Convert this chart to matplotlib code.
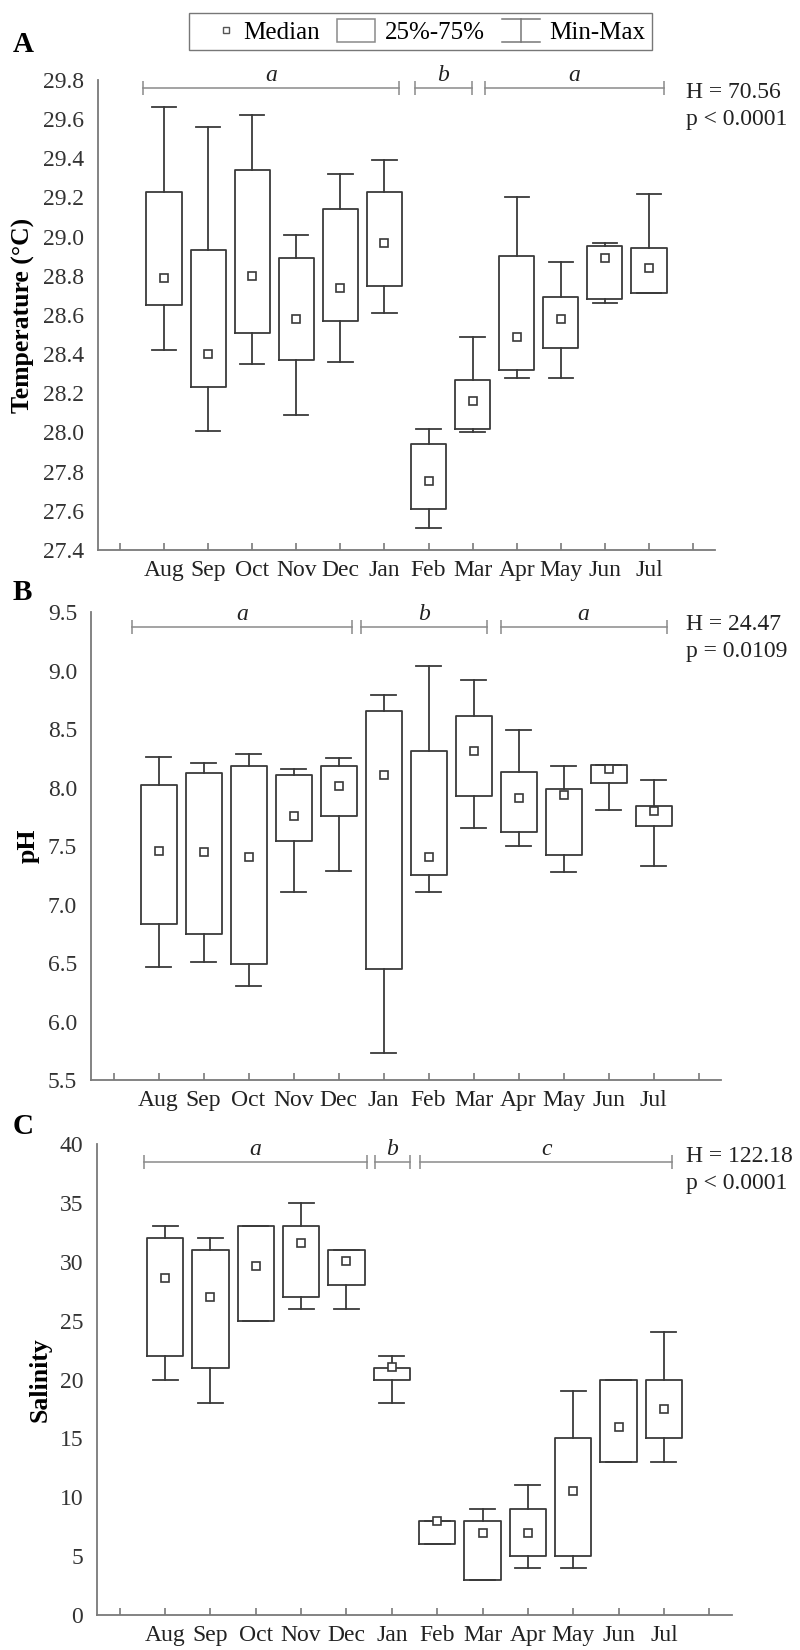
import matplotlib
matplotlib.use('Agg')
import matplotlib.pyplot as plt
from matplotlib.lines import Line2D
from matplotlib.patches import Rectangle
from matplotlib.legend_handler import HandlerBase

plt.rcParams['font.family'] = ['Liberation Serif', 'DejaVu Serif']

months = ['Aug', 'Sep', 'Oct', 'Nov', 'Dec', 'Jan', 'Feb', 'Mar', 'Apr', 'May', 'Jun', 'Jul']

# A - temperature (C)
temp_min = [28.42, 28.01, 28.35, 28.09, 28.36, 28.61, 27.51, 28.00, 28.28, 28.28, 28.66, 28.71]
temp_q1 = [28.65, 28.23, 28.51, 28.37, 28.57, 28.75, 27.61, 28.02, 28.32, 28.43, 28.68, 28.71]
temp_med = [28.79, 28.40, 28.80, 28.58, 28.74, 28.97, 27.75, 28.16, 28.49, 28.58, 28.89, 28.84]
temp_q3 = [29.23, 28.93, 29.34, 28.89, 29.14, 29.23, 27.94, 28.27, 28.90, 28.69, 28.95, 28.94]
temp_max = [29.66, 29.56, 29.62, 29.01, 29.32, 29.39, 28.02, 28.49, 29.20, 28.87, 28.97, 29.22]

# B - pH
ph_min = [6.47, 6.51, 6.30, 7.11, 7.29, 5.73, 7.11, 7.65, 7.50, 7.28, 7.81, 7.33]
ph_q1 = [6.83, 6.75, 6.49, 7.54, 7.76, 6.45, 7.25, 7.93, 7.62, 7.42, 8.04, 7.67]
ph_med = [7.46, 7.45, 7.41, 7.76, 8.01, 8.11, 7.41, 8.31, 7.91, 7.94, 8.16, 7.80]
ph_q3 = [8.02, 8.12, 8.18, 8.11, 8.18, 8.65, 8.31, 8.61, 8.13, 7.99, 8.19, 7.84]
ph_max = [8.26, 8.21, 8.29, 8.16, 8.25, 8.79, 9.04, 8.92, 8.49, 8.18, 8.19, 8.06]

# C - salinity
sal_min = [20, 18, 25, 26, 26, 18, 6, 3, 4, 4, 13, 13]
sal_q1 = [22, 21, 25, 27, 28, 20, 6, 3, 5, 5, 13, 15]
sal_med = [28.6, 27.0, 29.6, 31.6, 30.1, 21.1, 8.0, 7.0, 7.0, 10.5, 16.0, 17.5]
sal_q3 = [32, 31, 33, 33, 31, 21, 8, 8, 9, 15, 20, 20]
sal_max = [33, 32, 33, 35, 31, 22, 8, 9, 11, 19, 20, 24]

# homogeneous groups (start, end, letter) in month-position units
temp_groups = [(0.52, 6.33, 'a'), (6.70, 7.98, 'b'), (8.27, 12.35, 'a')]
ph_groups = [(0.42, 5.29, 'a'), (5.49, 8.31, 'b'), (8.60, 12.29, 'a')]
sal_groups = [(0.53, 5.45, 'a'), (5.63, 6.39, 'b'), (6.63, 12.18, 'c')]

temp_stat = ['H = 70.56', 'p < 0.0001']
ph_stat = ['H = 24.47', 'p = 0.0109']
sal_stat = ['H = 122.18', 'p < 0.0001']

edge = '#3a3a3a'
axis_col = '#7a7a7a'
grp_col = '#8a8a8a'


def draw_panel(ax, mins, q1s, meds, q3s, maxs, ylim, yticks, fmt, ylabel, groups, bar_y):
    stats = []
    for lo, a, m, b, hi in zip(mins, q1s, meds, q3s, maxs):
        stats.append({'whislo': lo, 'q1': a, 'med': m, 'mean': m, 'q3': b, 'whishi': hi, 'fliers': []})
    pos = list(range(1, len(stats) + 1))
    ax.bxp(stats, positions=pos, widths=0.8, capwidths=0.55, showmeans=True, showfliers=False,
           boxprops=dict(color=edge, linewidth=1.3),
           whiskerprops=dict(color=edge, linewidth=1.3),
           capprops=dict(color=edge, linewidth=1.3),
           medianprops=dict(linewidth=0),
           meanprops=dict(marker='s', markerfacecolor='white', markeredgecolor=edge,
                          markersize=6, markeredgewidth=1.2))
    ax.set_xlim(-0.5, 13.5)
    ax.set_xticks(range(0, 14))
    ax.set_xticklabels([''] + months + [''])
    ax.set_ylim(*ylim)
    ax.set_yticks(yticks)
    ax.set_yticklabels([fmt.format(v) for v in yticks])
    for s in ['top', 'right']:
        ax.spines[s].set_visible(False)
    for s in ['left', 'bottom']:
        ax.spines[s].set_color(axis_col)
        ax.spines[s].set_linewidth(1.3)
    ax.tick_params(axis='x', direction='in', length=5, color=axis_col, width=1.2,
                   pad=7, labelsize=17, labelcolor='#222222')
    ax.tick_params(axis='y', length=0, pad=10, labelsize=17, labelcolor='#333333')
    ax.set_ylabel(ylabel, fontsize=18.5, fontweight='bold', labelpad=6)

    for x0, x1, letter in groups:
        ax.plot([x0, x1], [bar_y, bar_y], color=grp_col, lw=1.1, marker='|',
                markersize=10, markeredgewidth=1.1, clip_on=False)
        ax.annotate(letter, ((x0 + x1) / 2, bar_y), xytext=(0, 5), textcoords='offset points',
                    ha='center', va='baseline', fontsize=17, style='italic', color='#222222',
                    annotation_clip=False)


fig = plt.figure(figsize=(8, 16.5), dpi=100)

ax1 = fig.add_axes([0.1225, 0.66667, 0.77125, 0.28485])
draw_panel(ax1, temp_min, temp_q1, temp_med, temp_q3, temp_max, (27.4, 29.8),
           [27.4 + 0.2 * i for i in range(13)], '{:.1f}', 'Temperature (°C)', temp_groups, 29.76)

ax2 = fig.add_axes([0.11375, 0.34545, 0.7875, 0.28364])
draw_panel(ax2, ph_min, ph_q1, ph_med, ph_q3, ph_max, (5.5, 9.5),
           [5.5 + 0.5 * i for i in range(9)], '{:.1f}', 'pH', ph_groups, 9.37)

ax3 = fig.add_axes([0.12125, 0.02121, 0.79375, 0.28545])
draw_panel(ax3, sal_min, sal_q1, sal_med, sal_q3, sal_max, (0, 40),
           list(range(0, 45, 5)), '{:d}', 'Salinity', sal_groups, 38.47)

# panel letters and Kruskal-Wallis results
for letter, ycen in [('A', 45), ('B', 593), ('C', 1126)]:
    fig.text(13 / 800, 1 - ycen / 1650, letter, fontsize=21, fontweight='bold', va='center', ha='left')

for lines, top in [(temp_stat, 80), (ph_stat, 612), (sal_stat, 1144)]:
    fig.text(686 / 800, 1 - (top + 12) / 1650, lines[0], fontsize=17, va='center', color='#222222')
    fig.text(686 / 800, 1 - (top + 39) / 1650, lines[1], fontsize=17, va='center', color='#222222')


# legend
class MedianHandler(HandlerBase):
    def create_artists(self, legend, orig_handle, xdescent, ydescent, width, height, fontsize, trans):
        m = Line2D([width - xdescent - 5], [height / 2 - ydescent], marker='s', markersize=5,
                   markerfacecolor='white', markeredgecolor='#555555', linestyle='none', transform=trans)
        return [m]


class BoxHandler(HandlerBase):
    def create_artists(self, legend, orig_handle, xdescent, ydescent, width, height, fontsize, trans):
        r = Rectangle((-xdescent, -ydescent), width, height, facecolor='white',
                      edgecolor='#8a8a8a', linewidth=1.1, transform=trans)
        return [r]


class WhiskerHandler(HandlerBase):
    def create_artists(self, legend, orig_handle, xdescent, ydescent, width, height, fontsize, trans):
        x0, x1 = -xdescent, width - xdescent
        y0, y1 = -ydescent, height - ydescent
        xc = (x0 + x1) / 2
        kw = dict(color='#777777', linewidth=1.1, transform=trans)
        return [Line2D([x0, x1], [y1, y1], **kw), Line2D([xc, xc], [y0, y1], **kw),
                Line2D([x0, x1], [y0, y0], **kw)]


h_med = Line2D([], [])
h_box = Rectangle((0, 0), 1, 1)
h_whi = Line2D([], [])
leg = fig.legend([h_med, h_box, h_whi], ['Median', '25%-75%', 'Min-Max'],
                 handler_map={h_med: MedianHandler(), h_box: BoxHandler(), h_whi: WhiskerHandler()},
                 loc='upper center', bbox_to_anchor=(0.5256, 1 - 13 / 1650), ncol=3, fontsize=18,
                 fancybox=False, edgecolor='#777777', framealpha=1, handlelength=1.5,
                 handleheight=1.0, handletextpad=0.4, columnspacing=0.7, borderpad=0.25,
                 borderaxespad=0)
leg.get_frame().set_linewidth(1.0)

fig.savefig('out.png', dpi=100)
